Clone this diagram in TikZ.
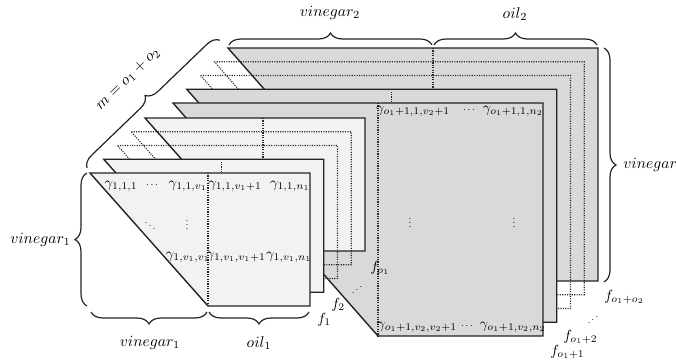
\documentclass[tikz,border=0pt]{standalone}
\usetikzlibrary{decorations.pathreplacing}

\definecolor{lightfill}{RGB}{242,242,242}
\definecolor{darkfill}{RGB}{217,217,217}
\definecolor{edgecol}{RGB}{35,35,35}

\tikzset{
  solidsheet/.style={draw=edgecol, line width=1.05pt, line join=miter},
  dottedsheet/.style={draw=black!85, line width=0.8pt, dash pattern=on 0.85pt off 0.95pt},
  splitline/.style={draw=black!85, line width=0.8pt, dash pattern=on 0.85pt off 0.95pt},
  bracedeco/.style={draw=edgecol, decorate, decoration={brace, amplitude=9pt}, line width=0.9pt},
  lbl/.style={inner sep=0pt, font=\normalsize, scale=1.1},
  bigl/.style={inner sep=0pt, font=\normalsize, scale=1.17},
  dotsl/.style={inner sep=0pt, font=\normalsize, scale=0.75},
}

% a sheet: #1 fill, #2 x0, #3 y0, #4 vinegar width, #5 vinegar height, #6 oil width
\newcommand\fullsheet[6]{%
  \filldraw[solidsheet, fill=#1] (#2,#3) -- ({#2+#4+#6},#3) -- ({#2+#4+#6},{#3+#5})
     -- ({#2+#4},{#3+#5}) -- cycle;
  \draw[splitline] ({#2+#4},#3) -- ({#2+#4},{#3+#5});
}
\newcommand\ghostsheet[5]{%
  \draw[dottedsheet] (#1,#2) -- ({#1+#3+#5},#2) -- ({#1+#3+#5},{#2+#4})
     -- ({#1+#3},{#2+#4}) -- cycle;
}

\begin{document}
\begin{tikzpicture}[x=0.75pt, y=-0.75pt]
\useasboundingbox (0,0) rectangle (676,362);

% second group of sheets (o2 equations), back to front
\fullsheet{darkfill}{228}{48}{205}{233}{165}
\ghostsheet{214.25}{61.75}{205}{233}{165}
\ghostsheet{200.5}{75.5}{205}{233}{165}
\fullsheet{darkfill}{186.75}{89.25}{205}{233}{165}
\fullsheet{darkfill}{173}{103}{205}{233}{165}

% first group of sheets (o1 equations), back to front
\fullsheet{lightfill}{145}{118}{118}{133}{102}
\ghostsheet{131.25}{131.75}{118}{133}{102}
\ghostsheet{117.5}{145.5}{118}{133}{102}
\fullsheet{lightfill}{103.75}{159.25}{118}{133}{102}
\fullsheet{lightfill}{90}{173}{118}{133}{102}

% entries of the front sheet f_1
\node[lbl] (g111) at (121,186) {$\gamma_{1,1,1}$};
\node[dotsl] (c11)  at (152,185) {$\cdots$};
\node[lbl] (g11v) at (188,186) {$\gamma_{1,1,v_1}$};
\node[lbl] (g11w) at (235,186) {$\gamma_{1,1,v_1+1}$};
\node[lbl] (g11n) at (290,186) {$\gamma_{1,1,n_1}$};
\node[dotsl] (dd1)  at (150,223) {$\ddots$};
\node[dotsl] (vd1)  at (187,222) {$\vdots$};
\node[lbl] (g1vv) at (188,257) {$\gamma_{1,v_1,v_1}$};
\node[lbl] (g1vw) at (236,257) {$\gamma_{1,v_1,v_1+1}$};
\node[lbl] (g1vn) at (289,257) {$\gamma_{1,v_1,n_1}$};

% entries of the sheet f_{o1+1}
\node[lbl] (h11w) at (413,111) {$\gamma_{o_1+1,1,v_2+1}$};
\node[dotsl] (c21)  at (469,110) {$\cdots$};
\node[lbl] (h11n) at (513,111) {$\gamma_{o_1+1,1,n_2}$};
\node[dotsl] (vd2)  at (410,220) {$\vdots$};
\node[dotsl] (vd3)  at (514,220) {$\vdots$};
\node[lbl] (hvvw) at (417,327) {$\gamma_{o_1+1,v_2,v_2+1}$};
\node[dotsl] (c22)  at (467,326) {$\cdots$};
\node[lbl] (hvvn) at (513,327) {$\gamma_{o_1+1,v_2,n_2}$};

% sheet names
\node[lbl, anchor=west] (f1)  at (317,320) {$f_1$};
\node[lbl, anchor=west] (f2)  at (331,305) {$f_2$};
\node[dotsl] (id1) at (357,287) {\reflectbox{$\ddots$}};
\node[lbl, anchor=west] (fo1) at (370,268) {$f_{o_1}$};
\node[lbl, anchor=west] (fa)  at (550,352) {$f_{o_1+1}$};
\node[lbl, anchor=west] (fb)  at (563,337) {$f_{o_1+2}$};
\node[dotsl] (id2) at (593,317) {\reflectbox{$\ddots$}};
\node[lbl, anchor=west] (fc)  at (604,297) {$f_{o_1+o_2}$};

% braces
\draw[bracedeco] (87,306) -- (87,173);
\node[bigl, anchor=east] (lv1) at (71,240) {$vinegar_1$};

\draw[bracedeco] (207,312) -- (91,312);
\node[bigl] (bv1) at (150,343) {$vinegar_1$};
\draw[bracedeco] (309,312) -- (209,312);
\node[bigl] (bo1) at (259,343) {$oil_1$};

\draw[bracedeco] (229,45) -- (432,45);
\node[bigl] (tv2) at (330,13) {$vinegar_2$};
\draw[bracedeco] (434,45) -- (597,45);
\node[bigl] (to2) at (515,14) {$oil_2$};

\draw[bracedeco] (604,48) -- (604,282);
\node[bigl, anchor=west] (rv2) at (623,165) {$vinegar_2$};

\draw[bracedeco] (87,168) -- (220,40);
\node[bigl, rotate=44] (mo) at (128,79) {$m = o_1 + o_2$};
\end{tikzpicture}
\end{document}
